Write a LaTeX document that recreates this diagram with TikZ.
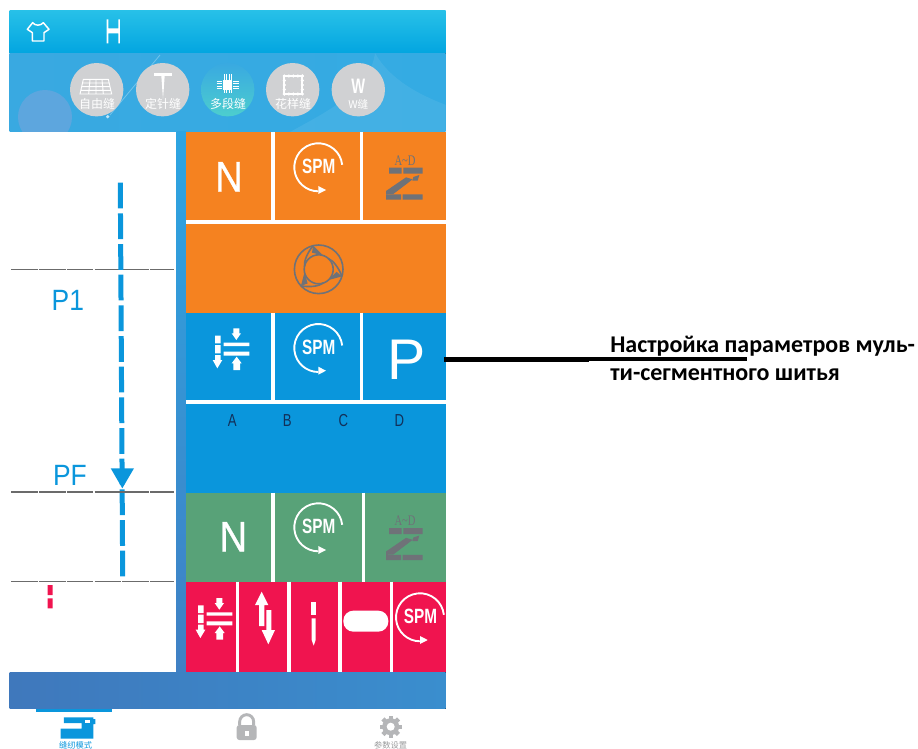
\documentclass[tikz,border=0pt]{standalone}
\usepackage{fontspec}
\setmainfont{Liberation Sans}
\newfontfamily\cjk{Noto Sans CJK SC}
\newfontfamily\noteFont{Carlito}
\newfontfamily\serifMark{Liberation Serif}
\newfontfamily\medFont[FakeBold=0.8]{Liberation Sans}
\definecolor{cOrange}{HTML}{F58220}
\definecolor{cBlue}{HTML}{0A96DC}
\definecolor{cGreen}{HTML}{58A278}
\definecolor{cRed}{HTML}{F0144F}
\definecolor{cIcon}{HTML}{6F7278}
\definecolor{cDisc}{HTML}{D0D1D3}
\definecolor{cTab}{HTML}{B5B6B8}
\definecolor{cBarTop}{HTML}{27C0E8}
\definecolor{cBarBot}{HTML}{02A5E0}
\definecolor{cBandL}{HTML}{39A9E1}
\definecolor{cBandR}{HTML}{34ABE3}
\definecolor{cSideT}{HTML}{2DA5E2}
\definecolor{cSideB}{HTML}{4080C4}
\definecolor{cFootL}{HTML}{3F78BC}
\definecolor{cFootR}{HTML}{3A8ECE}
\definecolor{cSeg}{HTML}{12305A}
\definecolor{cSpot}{HTML}{6AA6DE}
\newcommand{\squeezed}[2]{\scalebox{#1}[1]{#2}}
\tikzset{
  divider/.style={draw=white,line width=2.6pt},
  divwide/.style={draw=white,line width=3pt},
  bigletter/.style={inner sep=0pt,text=white,font=\medFont\fontsize{32}{32}\selectfont},
  cnlabel/.style={inner sep=0pt,text=white,font=\cjk\fontsize{9}{9}\selectfont},
  tablabel/.style={inner sep=0pt,font=\cjk\fontsize{6.2}{6.2}\selectfont},
  seglabel/.style={inner sep=0pt,text=cSeg,font=\fontsize{13}{13}\selectfont},
  levelline/.style={draw=black!58,line width=0.8pt,dash pattern=on 20pt off 0.9pt},
  spmicon/.pic={
    \draw[white,line width=1.4pt] (-6:24) arc[start angle=-6,end angle=-270,radius=24];
    \fill[white] (0,18.7) -- (7.7,22.7) -- (0,26.7) -- cycle;
    \node[inner sep=0pt,text=white,font=\bfseries\fontsize{15.5}{15.5}\selectfont] at (0.5,-1) {\squeezed{0.74}{SPM}};
  },
  zicon/.pic={
    \node[inner sep=0pt,text=cIcon,font=\serifMark\fontsize{11}{11}\selectfont] at (0,-19.7) {\squeezed{0.72}{A\textasciitilde D}};
    \begin{scope}[shift={(-225,-50)},scale=1/3]
      \fill[cIcon] (627,113) rectangle (665,131) (670,113) rectangle (728,131);
      \fill[cIcon] (618,193) rectangle (663,209) (668,193) rectangle (728,209);
      \fill[cIcon] (618,183) -- (678,142) -- (698,148) -- (640,192) -- (618,193) -- cycle;
      \fill[cIcon] (700,141) -- (718,135) -- (713,152) -- (697,152) -- cycle;
    \end{scope}
  },
  compressicon/.pic={
    \begin{scope}[shift={(-50,-38.3)},scale=1/3]
      \fill[white] (131,98) rectangle (208,108) (131,125) rectangle (208,137);
      \fill[white] (160,55) -- (178,55) -- (178,70) -- (183,70) -- (169,90) -- (155,70) -- (160,70) -- cycle;
      \fill[white] (160,180) -- (180,180) -- (180,160) -- (185,160) -- (170,140) -- (155,160) -- (160,160) -- cycle;
      \fill[white] (105,77) rectangle (122,100) (105,105) rectangle (122,130);
      \fill[white] (105,135) -- (122,135) -- (122,150) -- (127,150) -- (112,175) -- (98,150) -- (105,150) -- cycle;
    \end{scope}
  },
}
\begin{document}
\begin{tikzpicture}[x=0.75pt,y=-0.75pt]
\useasboundingbox (0,0) rectangle (918,749);
% --- top bars
\fill[top color=cBarTop,bottom color=cBarBot] (9.5,11) rectangle (445.5,53.5);
\begin{scope}
  \clip (9.5,53.5) rectangle (445.5,131.5);
  \fill[left color=cBandL,right color=cBandR] (9.5,53.5) rectangle (445.5,131.5);
  \fill[white,opacity=0.07] (375,53) .. controls (390,80) and (420,95) .. (446,105) -- (446,132) -- (290,132) .. controls (330,110) and (370,90) .. (375,53) -- cycle;
  \fill[cSpot,opacity=0.75] (45,117) circle[radius=27];
  \draw[white,opacity=0.3,line width=0.6pt] (160,55) -- (110,115);
  \fill[white,opacity=0.7] (107.7,116.7) circle[radius=1.8];
\end{scope}
% shirt and H
\begin{scope}[scale=1/3]
  \draw[white,line width=1.1pt,line join=round] (98,68) .. controls (105,78) and (122,78) .. (130,68) -- (147,88) -- (132,98) -- (132,123) -- (97,123) -- (97,98) -- (82,88) -- cycle;
  \fill[white] (320,58) rectangle (325,130) (355,58) rectangle (360,130) (320,85) rectangle (360,100);
\end{scope}
% --- round buttons
\fill[cDisc] (96.7,89.7) circle[radius=26.7];
\fill[cDisc] (162.7,89.7) circle[radius=26.7];
\shade[top color=cBandL,bottom color=teal!55!cyan!70!white] (227.7,89.7) circle[radius=26.7];
\fill[cDisc] (292.7,89.7) circle[radius=26.7];
\fill[cDisc] (358.3,89.7) circle[radius=26.7];
\begin{scope}[scale=1/3]
  % grid
  \draw[white,line width=0.7pt] (250,238) -- (325,238) -- (335,282) -- (240,282) -- cycle
    (247,249) -- (328,249) (245,260) -- (330,260) (243,271) -- (333,271)
    (270,238) -- (266,282) (288,238) -- (288,282) (306,238) -- (310,282);
  % T
  \fill[white] (463,220) rectangle (515,228);
  \fill[white] (484,228) -- (494,228) -- (491,270) -- (489,296) -- (487,270) -- cycle;
  % chip
  \fill[white] (669,241) rectangle (697,269);
  \draw[white,line width=0.6pt] (650,244) -- (667,244) (650,251) -- (667,251) (650,259) -- (667,259) (650,266) -- (667,266)
    (699,244) -- (716,244) (699,251) -- (716,251) (699,259) -- (716,259) (699,266) -- (716,266)
    (672,222) -- (672,239) (680,222) -- (680,239) (688,222) -- (688,239) (695,222) -- (695,239)
    (672,271) -- (672,278) (680,271) -- (680,278) (688,271) -- (688,278) (695,271) -- (695,278);
\end{scope}
% scalloped square
\begin{scope}[shift={(293.3,85)}]
  \draw[white,line width=1.4pt] (-9,-9) rectangle (9,9);
  \foreach \t in {-9,-4.5,0,4.5,9}{
    \fill[white] (\t,-9) circle[radius=1.7] (\t,9) circle[radius=1.7] (-9,\t) circle[radius=1.7] (9,\t) circle[radius=1.7];
  }
\end{scope}
\node[inner sep=0pt,text=white,font=\bfseries\fontsize{15.7}{15.7}\selectfont] (wmark) at (358.3,86) {\squeezed{0.7}{W}};
\node[cnlabel] (mode1) at (97,104) {自由缝};
\node[cnlabel] (mode2) at (163,104) {定针缝};
\node[cnlabel] (mode3) at (228,104) {多段缝};
\node[cnlabel] (mode4) at (293,104) {花样缝};
\node[inner sep=0pt,text=white,font=\cjk\fontsize{8}{8}\selectfont] (mode5) at (358.3,104) {W缝};
% --- left panel
\shade[top color=cSideT,bottom color=cSideB] (176.5,131.5) rectangle (186,672);
% level lines
\draw[levelline] (11,269.3) -- (174,269.3);
\draw[levelline] (11,492) -- (174,492);
\draw[levelline] (11,581.7) -- (174,581.7);
% seam
\draw[cBlue,line width=3.75pt,dash pattern=on 19.3pt off 3.7pt] (120.3,182.7) -- (122.7,577.3);
\fill[cBlue] (110.7,468.3) -- (134,468.3) -- (122.3,488.3) -- cycle;
\draw[black!58,line width=0.8pt] (118,492) -- (127,492);
\node[inner sep=0pt,text=cBlue,font=\fontsize{22}{22}\selectfont] (pone) at (67.8,300.8) {\squeezed{0.9}{P1}};
\node[inner sep=0pt,text=cBlue,font=\fontsize{22}{22}\selectfont] (pf) at (70,475.5) {\squeezed{0.9}{PF}};
\fill[cRed] (47.7,585) rectangle (52.7,595) (47.7,598.3) rectangle (52.7,608.3);
% --- colour panels
\fill[cOrange] (186,132) rectangle (445.5,312.5);
\fill[cBlue] (186,312.5) rectangle (445.5,492.5);
\fill[cGreen] (186,492.5) rectangle (445.5,581.5);
\fill[cRed] (186,581.5) rectangle (445.5,672);
% dividers
\draw[divider] (273,132) -- (273,222) (361.7,132) -- (361.7,222);
\draw[divwide] (186,222.3) -- (445.5,222.3);
\draw[divider] (273,312.5) -- (273,402) (361.7,312.5) -- (361.7,402);
\draw[divwide] (186,402) -- (445.5,402);
\draw[divider] (273,492.5) -- (273,581.5) (363.7,492.5) -- (363.7,581.5);
\draw[divider] (237.7,581.5) -- (237.7,672) (289,581.5) -- (289,672) (340,581.5) -- (340,672) (391.5,581.5) -- (391.5,672);
% orange row
\node[bigletter] (nOrange) at (229,176.7) {\squeezed{0.9}{N}};
\pic at (318.3,167.3) {spmicon};
\pic at (405,180) {zicon};
% aperture
\begin{scope}[shift={(318.7,269.3)},cIcon,line width=1.2pt]
  \draw circle[radius=24.3];
  \draw circle[radius=14.5];
  \foreach \a in {0,120,240}{
    \begin{scope}[rotate=\a]
      \draw (-103:24.3) .. controls (-125:20) and (-150:17) .. (-168:14.5);
      \fill (-103:24.3) -- (-72:14.5) -- (-112:18) -- cycle;
    \end{scope}
  }
\end{scope}
% blue row
\pic at (230,348.3) {compressicon};
\pic at (318.3,348) {spmicon};
\node[inner sep=0pt,text=white,font=\fontsize{43}{43}\selectfont] (pBlue) at (406.7,360) {P};
\node[seglabel] (segA) at (232.3,420.7) {\squeezed{0.76}{A}};
\node[seglabel] (segB) at (287.3,420.7) {\squeezed{0.76}{B}};
\node[seglabel] (segC) at (343.3,420.7) {\squeezed{0.76}{C}};
\node[seglabel] (segD) at (399.3,420.7) {\squeezed{0.76}{D}};
% green row
\node[bigletter] (nGreen) at (233.3,536.7) {\squeezed{0.9}{N}};
\pic at (318.3,527.3) {spmicon};
\pic at (405,540.5) {zicon};
% red row
\pic at (213,618) {compressicon};
\begin{scope}[shift={(180,490)},scale=1/3]
  \fill[white] (237,408) -- (253,408) -- (253,345) -- (265,345) -- (245,305) -- (225,345) -- (237,345) -- cycle;
  \fill[white] (259,360) -- (274,360) -- (274,420) -- (285,420) -- (265,463) -- (245,420) -- (259,420) -- cycle;
  \fill[white] (393,337) rectangle (408,375);
  \fill[white] (395,385) -- (407,385) -- (407,450) -- (401,467) -- (395,450) -- cycle;
  \fill[white,rounded corners=7.5pt] (490,362) rectangle (625,425);
\end{scope}
\pic at (420,617.3) {spmicon};
% --- bottom bar
\fill[left color=cFootL,right color=cFootR] (9.5,672) rectangle (445.5,708.5);
\fill[cBlue] (36,708.5) rectangle (111.5,711.5);
\begin{scope}[shift={(0,670)},scale=1/3]
  % machine
  \fill[cBlue] (192,142) -- (280,142) -- (280,147) -- (286,147) -- (286,162) -- (280,162) -- (280,206) -- (182,206) -- (182,176) -- (245,176) -- (245,159) -- (192,159) -- cycle;
  \fill[white] (255,150) rectangle (270,159);
  % lock
  \fill[cTab,rounded corners=2pt] (710,165) rectangle (770,210);
  \draw[cTab,line width=2.2pt] (719,165) -- (719,155) arc[start angle=180,end angle=360,radius=21] -- (761,165);
  \fill[white] (734,182) rectangle (746,198);
\end{scope}
\begin{scope}[shift={(390.7,726.7)},cTab]
  \fill circle[radius=8.5];
  \foreach \a in {0,45,90,135}{\fill[rotate=\a] (-2.2,-11) rectangle (2.2,11);}
  \fill[white] circle[radius=4];
\end{scope}
\node[tablabel,text=cBlue] (tab1) at (75.7,745) {缝纫模式};
\node[tablabel,text=cTab!85!black] (tab3) at (390.7,745) {参数设置};
% --- callout
\node[inner sep=0pt,anchor=north west,align=left,text=black,font=\noteFont\bfseries\fontsize{18}{21.2}\selectfont] (note) at (610,336) {Настройка параметров муль-\\ти-сегментного шитья};
\coordinate (leadA) at (444,359.3);
\coordinate (leadB) at (589,359.3);
\coordinate (leadC) at (746.7,359.3);
\draw[black,line width=3.6pt] (leadA) -- (leadB);
\draw[black,line width=3pt] (leadB) -- (leadC);
\end{tikzpicture}
\end{document}
